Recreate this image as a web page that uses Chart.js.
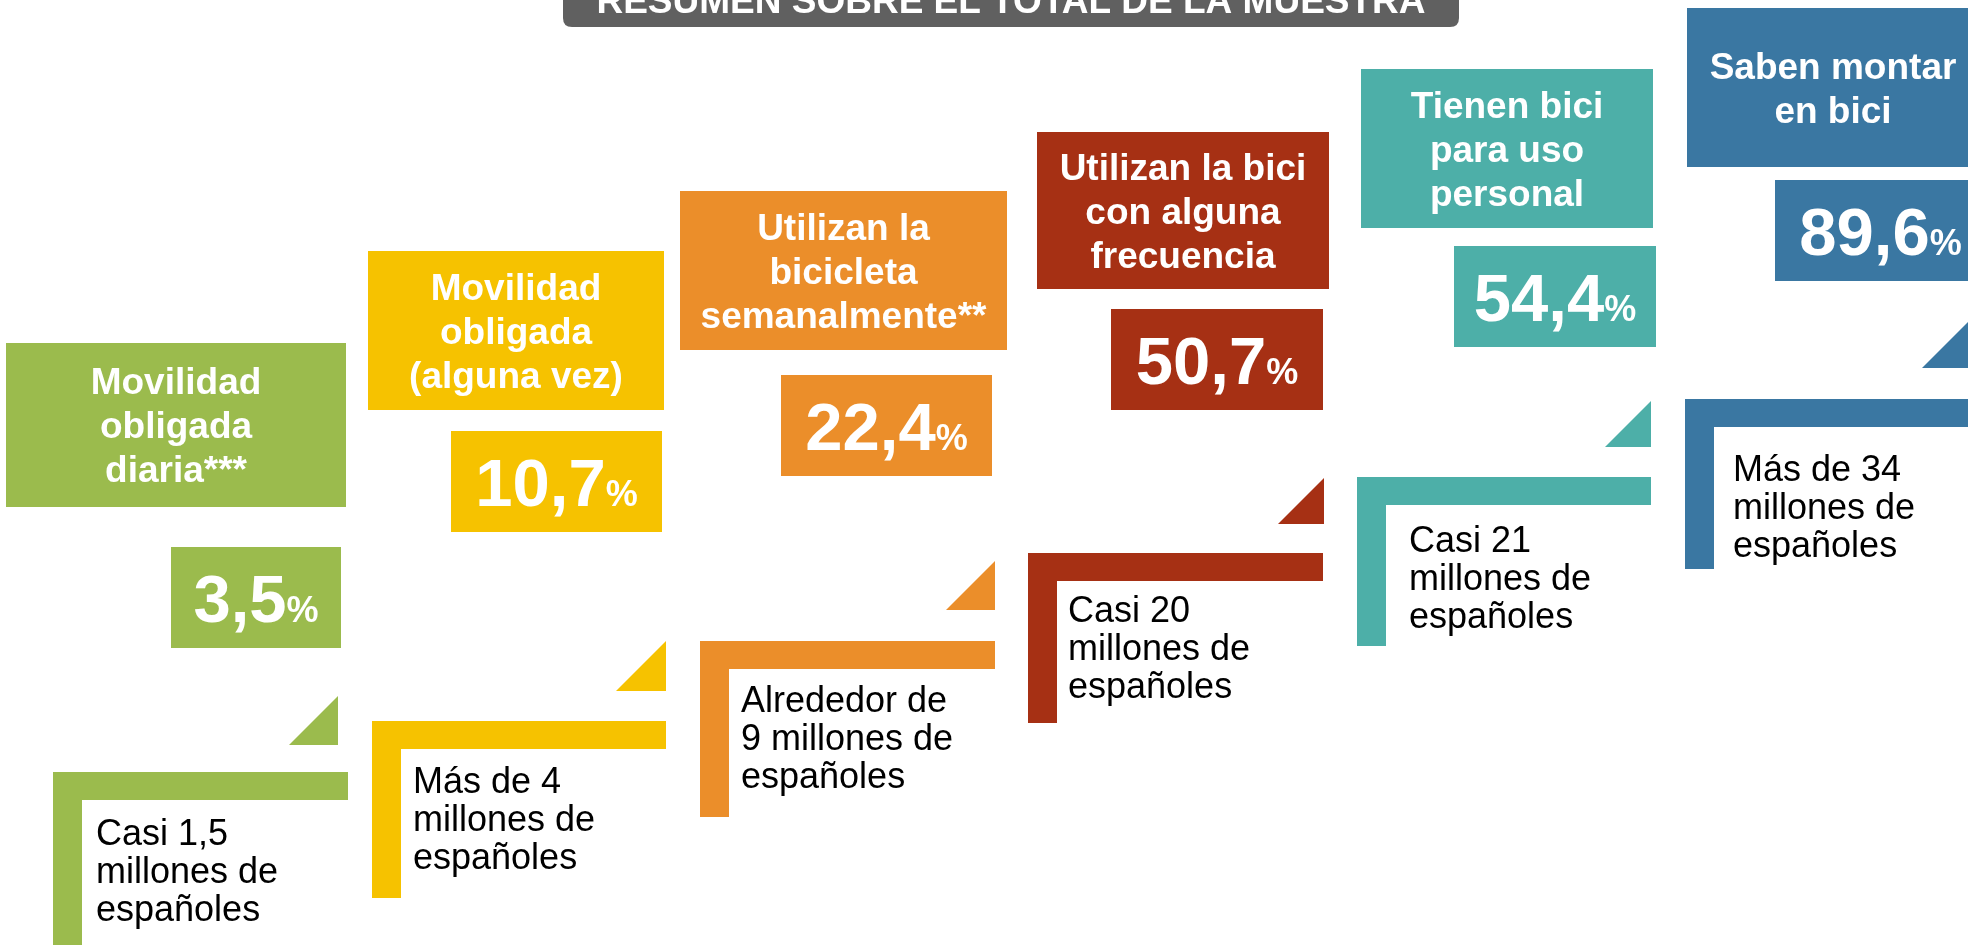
<!DOCTYPE html>
<html>
<head>
<meta charset="utf-8">
<script src="https://cdn.jsdelivr.net/npm/chart.js@4.4.1/dist/chart.umd.min.js"></script>
<style>
    html, body { margin: 0; padding: 0; background: #fff; }
    #chart { display: block; }
</style>
</head>
<body>
<canvas id="chart" width="1968" height="945"></canvas>
<script>
'use strict';

const title = 'RESUMEN SOBRE EL TOTAL DE LA MUESTRA';

const categories = [
    ['Movilidad', 'obligada', 'diaria***'],
    ['Movilidad', 'obligada', '(alguna vez)'],
    ['Utilizan la', 'bicicleta', 'semanalmente**'],
    ['Utilizan la bici', 'con alguna', 'frecuencia'],
    ['Tienen bici', 'para uso', 'personal'],
    ['Saben montar', 'en bici']
];

const values = [3.5, 10.7, 22.4, 50.7, 54.4, 89.6];

const populations = [
    ['Casi 1,5', 'millones de', 'españoles'],
    ['Más de 4', 'millones de', 'españoles'],
    ['Alrededor de', '9 millones de', 'españoles'],
    ['Casi 20', 'millones de', 'españoles'],
    ['Casi 21', 'millones de', 'españoles'],
    ['Más de 34', 'millones de', 'españoles']
];

const colors = ['#9BBB4D', '#F6C200', '#EB8E2A', '#A63014', '#4DAFA8', '#3A77A2'];

// layout of each step, in scale units (same as page pixels)
// label box, value box, triangle [right, top, bottom], bracket [left, top, right, bottom], text [left, baseline]
const layout = [
    { label: [6, 343, 346, 507], value: [171, 547, 341, 648], tri: [338, 696, 745], bracket: [53, 772, 348, 960], text: [96, 845] },
    { label: [368, 251, 664, 410], value: [451, 431, 662, 532], tri: [666, 641, 691], bracket: [372, 721, 666, 898], text: [413, 793] },
    { label: [680, 191, 1007, 350], value: [781, 375, 992, 476], tri: [995, 561, 610], bracket: [700, 641, 995, 817], text: [741, 712] },
    { label: [1037, 132, 1329, 289], value: [1111, 309, 1323, 410], tri: [1324, 478, 524], bracket: [1028, 553, 1323, 723], text: [1068, 622] },
    { label: [1361, 69, 1653, 228], value: [1454, 246, 1656, 347], tri: [1651, 401, 447], bracket: [1357, 477, 1651, 646], text: [1409, 552] },
    { label: [1687, 8, 1979, 167], value: [1775, 180, 1986, 281], tri: [1970, 320, 368], bracket: [1685, 399, 1995, 569], text: [1733, 481] }
];

const FONT = '"Liberation Sans", Arial, sans-serif';

const staircase = {
    id: 'staircase',
    afterDraw(chart) {
        const ctx = chart.ctx;
        const sx = chart.scales.x;
        const sy = chart.scales.y;
        const px = v => sx.getPixelForValue(v);
        const py = v => sy.getPixelForValue(v);

        ctx.save();

        // title tab
        const tx1 = px(563), tx2 = px(1459), ty2 = py(27), r = 9;
        ctx.fillStyle = '#606060';
        ctx.beginPath();
        ctx.moveTo(tx1, py(-20));
        ctx.lineTo(tx1, ty2 - r);
        ctx.quadraticCurveTo(tx1, ty2, tx1 + r, ty2);
        ctx.lineTo(tx2 - r, ty2);
        ctx.quadraticCurveTo(tx2, ty2, tx2, ty2 - r);
        ctx.lineTo(tx2, py(-20));
        ctx.closePath();
        ctx.fill();
        ctx.fillStyle = '#fff';
        ctx.font = 'bold 37px ' + FONT;
        ctx.textAlign = 'center';
        ctx.textBaseline = 'alphabetic';
        ctx.fillText(title, (tx1 + tx2) / 2, py(13));

        values.forEach((val, i) => {
            const l = layout[i];
            const color = colors[i];
            ctx.fillStyle = color;

            // label box
            const [lx1, ly1, lx2, ly2] = l.label;
            ctx.fillRect(px(lx1), py(ly1), px(lx2) - px(lx1), py(ly2) - py(ly1));

            // value box
            const [vx1, vy1, vx2, vy2] = l.value;
            ctx.fillRect(px(vx1), py(vy1), px(vx2) - px(vx1), py(vy2) - py(vy1));

            // triangle
            const [trx, tTop, tBot] = l.tri;
            ctx.beginPath();
            ctx.moveTo(px(trx), py(tTop));
            ctx.lineTo(px(trx), py(tBot));
            ctx.lineTo(px(trx - (tBot - tTop)), py(tBot));
            ctx.closePath();
            ctx.fill();

            // bracket
            const [bx1, by1, bx2, by2] = l.bracket;
            ctx.fillRect(px(bx1), py(by1), px(bx2) - px(bx1), py(by1 + 28) - py(by1));
            ctx.fillRect(px(bx1), py(by1), px(bx1 + 29) - px(bx1), py(by2) - py(by1));

            // label text
            ctx.fillStyle = '#fff';
            ctx.font = 'bold 37px ' + FONT;
            ctx.textAlign = 'center';
            const lines = categories[i];
            const lh = 44, cap = 26.5;
            const blockH = (lines.length - 1) * lh + cap;
            const cy = (py(ly1) + py(ly2)) / 2;
            const cx = (px(lx1) + px(lx2)) / 2;
            lines.forEach((t, k) => {
                ctx.fillText(t, cx, cy - blockH / 2 + cap + k * lh);
            });

            // value text
            const num = val.toFixed(1).replace('.', ',');
            ctx.font = 'bold 67px ' + FONT;
            const wNum = ctx.measureText(num).width;
            ctx.font = 'bold 36px ' + FONT;
            const wPct = ctx.measureText('%').width;
            const vcx = (px(vx1) + px(vx2)) / 2;
            const vcy = (py(vy1) + py(vy2)) / 2;
            const base = vcy + 24;
            ctx.textAlign = 'left';
            ctx.font = 'bold 67px ' + FONT;
            ctx.fillText(num, vcx - (wNum + wPct) / 2, base);
            ctx.font = 'bold 36px ' + FONT;
            ctx.fillText('%', vcx - (wNum + wPct) / 2 + wNum, base);

            // population text
            ctx.fillStyle = '#000';
            ctx.font = '36px ' + FONT;
            const [txl, tyb] = l.text;
            populations[i].forEach((t, k) => {
                ctx.fillText(t, px(txl), py(tyb + k * 38));
            });
        });

        ctx.restore();
    }
};

new Chart(document.querySelector('#chart'), {
    type: 'scatter',
    data: { datasets: [] },
    options: {
        responsive: false,
        animation: false,
        layout: { padding: 0 },
        plugins: { legend: { display: false }, tooltip: { enabled: false } },
        scales: {
            x: { type: 'linear', min: 0, max: 1968, display: false },
            y: { type: 'linear', min: 0, max: 945, reverse: true, display: false }
        }
    },
    plugins: [staircase]
});
</script>
</body>
</html>
